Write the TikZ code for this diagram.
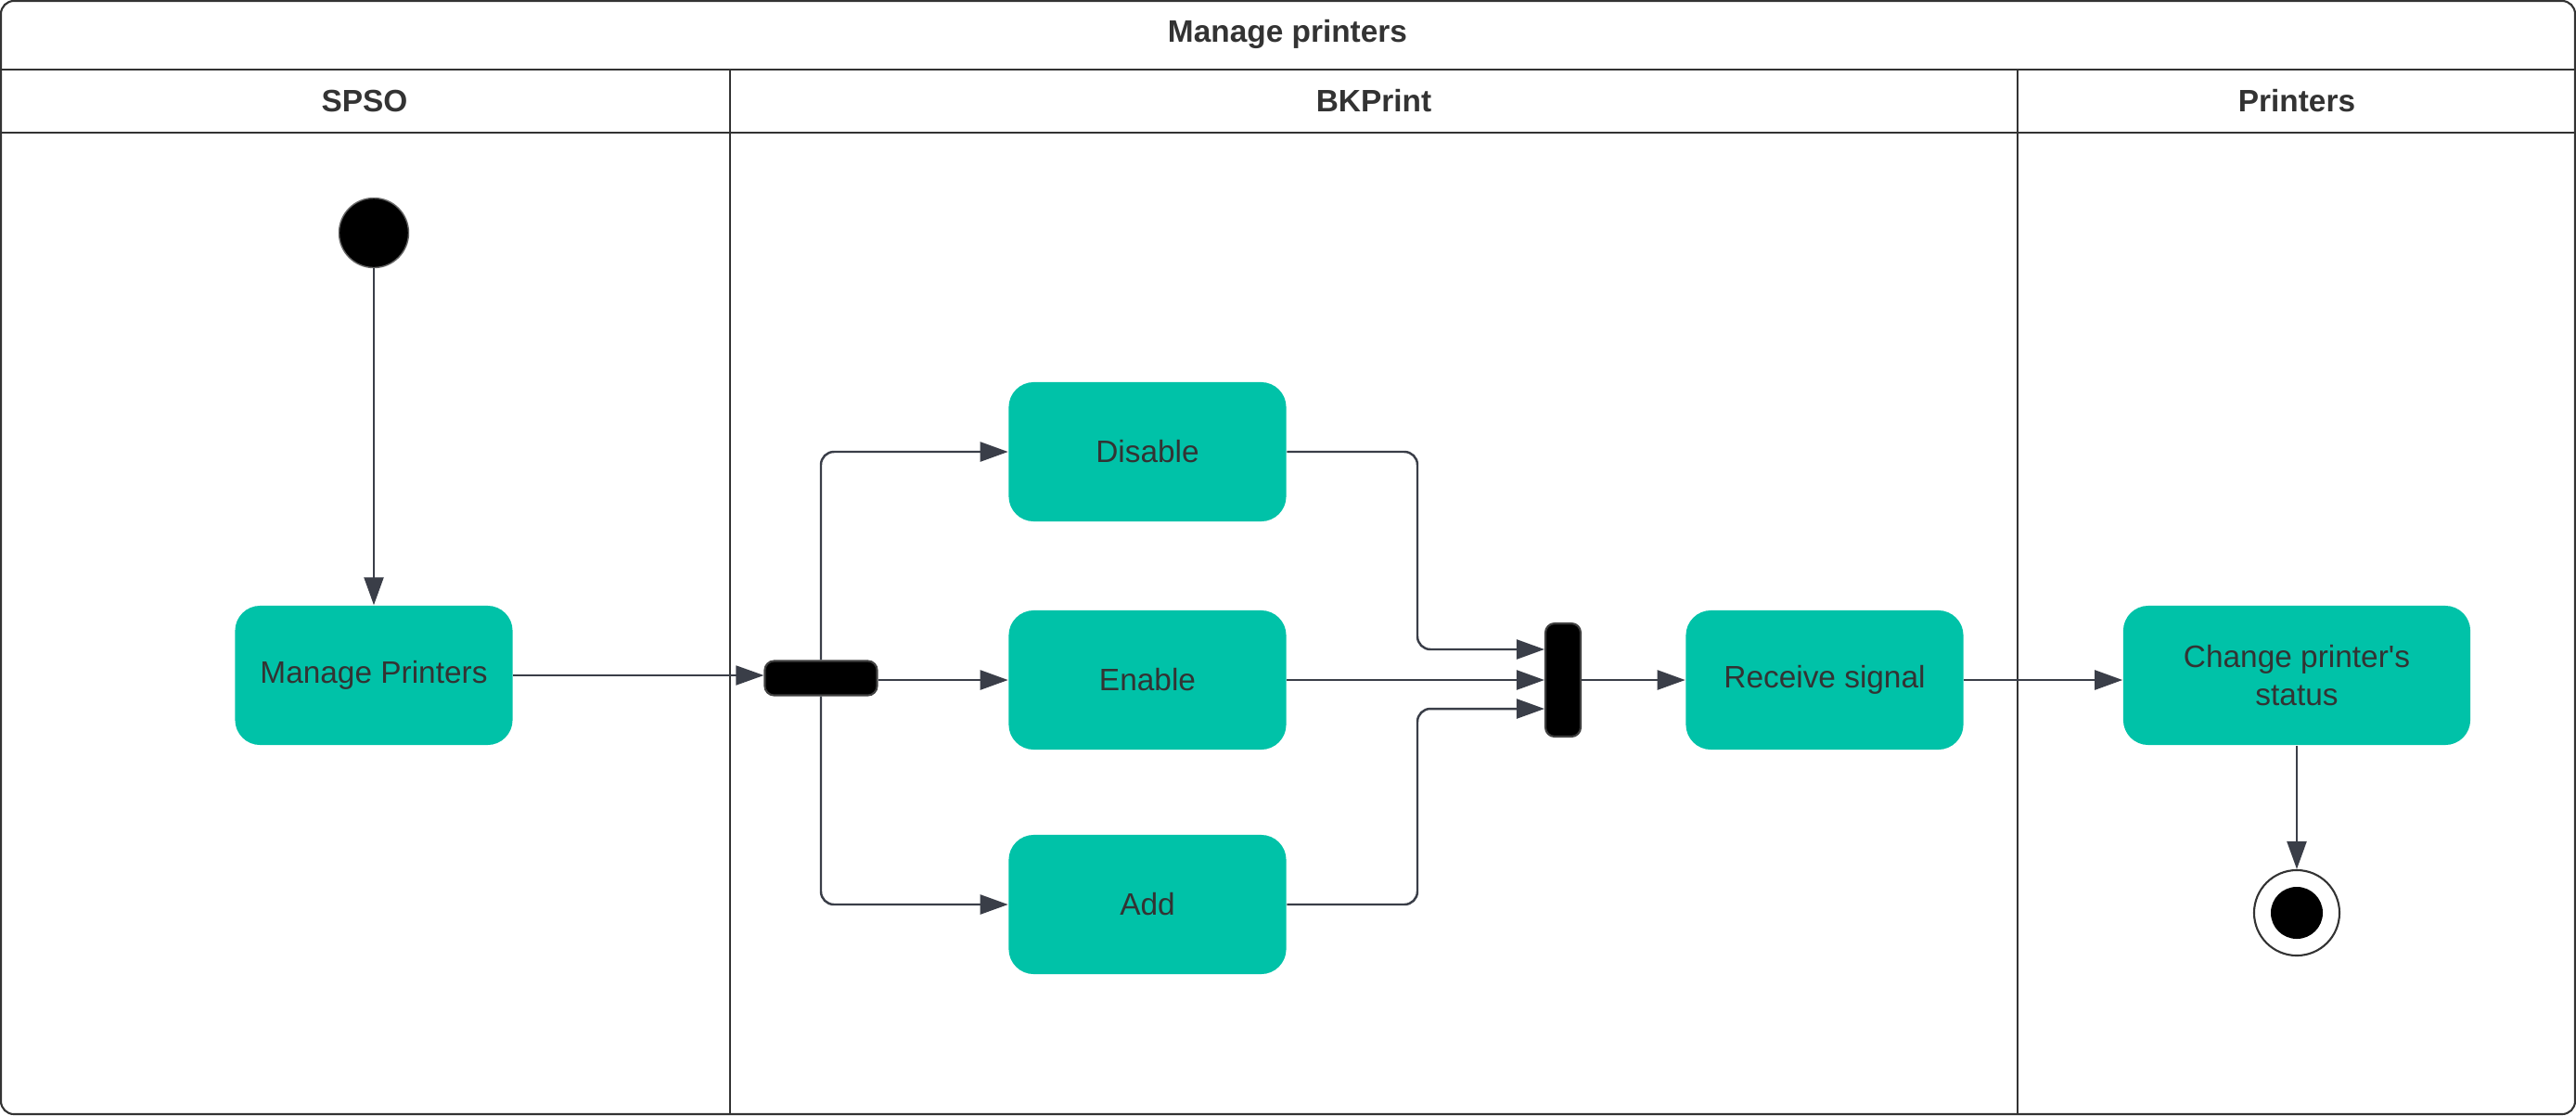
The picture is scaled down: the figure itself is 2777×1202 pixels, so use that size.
\documentclass[tikz,border=0pt]{standalone}
\usepackage{fontspec}
\setmainfont{Liberation Sans}
\usetikzlibrary{arrows.meta}
\definecolor{actfill}{HTML}{00C2A8}
\definecolor{inktext}{HTML}{333333}
\definecolor{flowline}{HTML}{3A3E48}
\tikzset{
activity/.style={
	  fill=actfill, rounded corners=0.27cm, text=inktext, align=center,
	    minimum width=2.99cm, minimum height=1.5cm, inner sep=0pt,
    font=\fontsize{9.5}{11.6}\selectfont},
syncbar/.style={fill=black, draw=black!75, line width=0.6pt,
	  rounded corners=0.1cm, inner sep=0pt},
flow/.style={draw=flowline, line width=0.7pt, rounded corners=0.14cm,
	  -{Triangle[length=0.3cm,width=0.21cm]}},
lanehead/.style={font=\bfseries\fontsize{9.5}{11.6}\selectfont, text=inktext}
}

\begin{document}
\begin{tikzpicture}[x=0.01cm, y=-0.01cm]
	\useasboundingbox (0,0) rectangle (2777,1202);
	% pool and lanes
	\draw[draw=black!80, line width=0.6pt, rounded corners=0.14cm] (1,1) rectangle (2776,1201);
	\draw[draw=black!80, line width=0.6pt] (1,75) -- (2776,75) (1,143) -- (2776,143);
	\draw[draw=black!80, line width=0.6pt] (787,75) -- (787,1201) (2175,75) -- (2175,1201);
	\node[lanehead] (title) at (1388,37) {Manage printers};
	\node[lanehead] (spso) at (393,109) {SPSO};
	\node[lanehead] (bkprint) at (1481,109) {BKPrint};
	\node[lanehead] (printers) at (2476,109) {Printers};
	% states
	\node[circle, fill=black, draw=black!60, minimum size=0.75cm, inner sep=0pt] (start) at (403,251) {};
	\node[activity] (manage) at (403,728) {Manage Printers};
	\node[syncbar, minimum width=1.21cm, minimum height=0.37cm] (fork) at (885,731) {};
	\node[activity] (disable) at (1237,487) {Disable};
	\node[activity] (enable) at (1237,733) {Enable};
	\node[activity] (add) at (1237,975) {Add};
	\node[syncbar, minimum width=0.38cm, minimum height=1.22cm] (join) at (1685,733) {};
	\node[activity] (receive) at (1967,733) {Receive signal};
	\node[activity, minimum width=3.74cm] (change) at (2476,728) {Change printer\textquotesingle s\\status};
	\node[circle, draw=black!80, line width=0.6pt, minimum size=0.92cm, inner sep=0pt] (stop) at (2476,984) {};
	\node[circle, fill=black, minimum size=0.56cm, inner sep=0pt] (stopdot) at (stop) {};
	% transitions
	\coordinate (merge) at (1528,733);
	\coordinate (jointop) at ([yshift=0.33cm]join.west);
	\coordinate (joinbot) at ([yshift=-0.31cm]join.west);
	\draw[flow] (start) -- (manage);
	\draw[flow, line width=0.5pt] (manage.east) -- (manage.east -| fork.west);
	\draw[flow] (fork.north) |- (disable.west);
	\draw[flow] (fork.east |- enable) -- (enable.west);
	\draw[flow] (fork.south) |- (add.west);
	\draw[flow] (disable.east) -| (jointop -| merge) -- (jointop);
	\draw[flow] (enable) -- (join.west);
	\draw[flow] (add.east) -| (joinbot -| merge) -- (joinbot);
	\draw[flow] (join) -- (receive);
	\draw[flow] (receive) -- (receive -| change.west);
	\draw[flow] (change) -- (stop);
\end{tikzpicture}
\end{document}
